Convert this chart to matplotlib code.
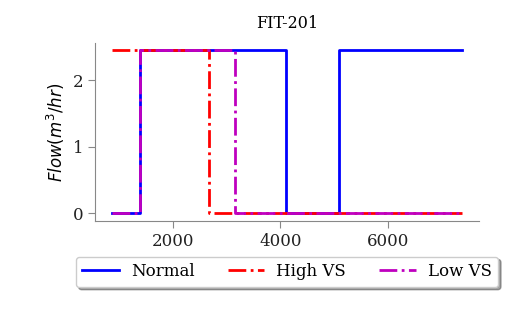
import matplotlib
matplotlib.use("Agg")
import matplotlib.pyplot as plt

# Data: change points (time) and step values
normal_t = [870, 1390, 4095, 5095, 7380]
normal_v = [0.0, 2.45, 0.0, 2.45, 2.45]
high_t = [870, 2660, 7380]
high_v = [2.45, 0.0, 0.0]
low_t = [870, 1390, 3150, 7380]
low_v = [0.0, 2.45, 0.0, 0.0]
xticks = [2000, 4000, 6000]
yticks = [0, 1, 2]

plt.rcParams['font.family'] = 'DejaVu Serif'
plt.rcParams['mathtext.fontset'] = 'dejavusans'

fig = plt.figure(figsize=(5.09, 3.15), dpi=100)
ax = fig.add_axes([95/509, 1-221/315, (479-95)/509, (221-43)/315])

ax.plot(normal_t, normal_v, color='b', lw=2, drawstyle='steps-post', label='Normal')
ax.plot(high_t, high_v, color='r', lw=2, ls='-.', drawstyle='steps-post', label='High VS')
ax.plot(low_t, low_v, color='m', lw=2, ls='-.', drawstyle='steps-post', label='Low VS')

ax.set_xlim(545, 7700)
ax.set_ylim(-0.12, 2.56)
ax.set_xticks(xticks)
ax.set_yticks(yticks)
ax.tick_params(labelsize=12, color='#888888', length=5, labelcolor='#222222')
for s in ['top', 'right']:
    ax.spines[s].set_visible(False)
for s in ['left', 'bottom']:
    ax.spines[s].set_color('#888888')
ax.set_title('FIT-201', fontsize=11.5, pad=11)
ax.set_ylabel('$Flow(m^3/hr)$', fontsize=12)

ax.legend(loc='upper center', bbox_to_anchor=(0.5, -0.2), ncol=3, shadow=True,
          fancybox=True, fontsize=12, columnspacing=2.0, borderaxespad=0,
          handletextpad=0.7, handlelength=2.2)

fig.savefig('out.png', dpi=100)
